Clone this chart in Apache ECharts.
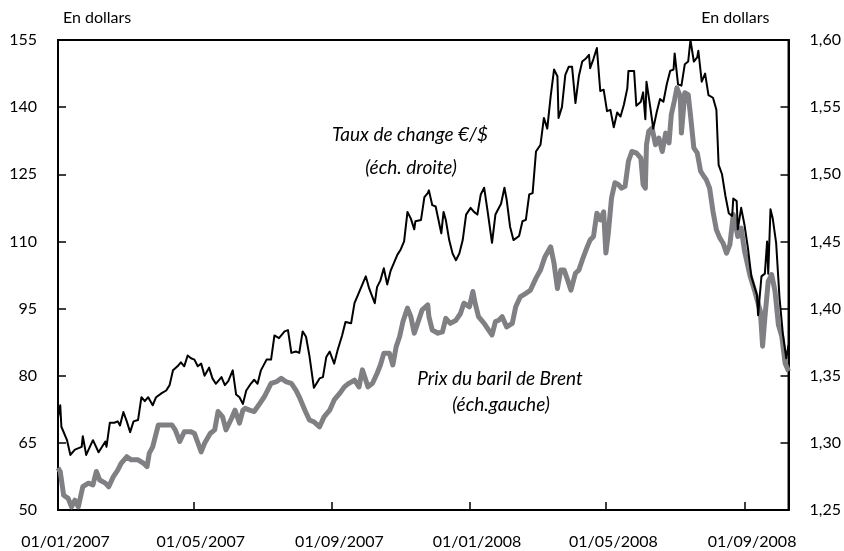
<!DOCTYPE html>
<html>
<head>
<meta charset="utf-8">
<script src="https://cdn.jsdelivr.net/npm/echarts@6/dist/echarts.min.js"></script>
<style>
html,body{margin:0;padding:0;background:#fff;}
#chart{width:844px;height:551px;}
</style>
</head>
<body>
<div id="chart"></div>
<script>
// x values are days since 01/01/2007
const tickDays = [0, 120, 243, 365, 486, 609];
const tickLabels = ['01/01/2007', '01/05/2007', '01/09/2007', '01/01/2008', '01/05/2008', '01/09/2008'];

// Taux de change €/$ (right scale)
const fxDays = [0,2,3,8,11,15,21,22,25,31,36,42,43,46,50,53,55,58,61,64,67,71,74,77,80,84,87,92,96,99,102,106,109,112,115,118,121,124,127,130,134,137,140,145,148,151,155,158,161,164,167,171,174,177,180,185,189,192,196,201,204,207,211,214,217,220,223,227,232,235,238,241,245,248,252,255,260,263,266,270,273,276,281,283,286,289,292,295,298,301,304,307,310,313,316,317,322,325,328,329,332,335,337,340,342,344,347,350,353,356,359,362,366,369,372,375,378,381,385,388,393,396,398,401,404,409,412,415,418,421,424,428,431,434,437,440,443,444,447,450,453,456,459,462,465,468,471,472,475,478,481,484,487,490,493,496,499,502,505,506,511,513,517,519,521,522,525,528,531,534,537,540,543,546,547,550,553,556,559,561,564,567,568,571,574,577,581,584,586,589,592,595,598,599,602,603,606,609,612,615,620,621,624,627,629,630,632,634,637,640,643,646,648];
const fxValues = [1.319,1.328,1.312,1.302,1.291,1.295,1.297,1.305,1.291,1.302,1.293,1.301,1.297,1.315,1.315,1.316,1.313,1.323,1.316,1.308,1.316,1.317,1.334,1.331,1.334,1.328,1.334,1.337,1.339,1.343,1.354,1.357,1.360,1.357,1.365,1.363,1.362,1.357,1.359,1.350,1.356,1.348,1.344,1.349,1.343,1.346,1.354,1.336,1.334,1.329,1.339,1.344,1.347,1.344,1.354,1.362,1.362,1.380,1.378,1.383,1.384,1.367,1.368,1.367,1.383,1.379,1.365,1.341,1.348,1.349,1.364,1.368,1.359,1.369,1.380,1.390,1.389,1.404,1.410,1.418,1.424,1.415,1.404,1.416,1.421,1.430,1.418,1.428,1.434,1.440,1.444,1.450,1.472,1.467,1.459,1.465,1.466,1.483,1.486,1.488,1.477,1.476,1.468,1.456,1.472,1.466,1.451,1.441,1.436,1.441,1.451,1.470,1.475,1.472,1.470,1.485,1.490,1.473,1.449,1.470,1.478,1.490,1.481,1.461,1.451,1.454,1.465,1.466,1.485,1.486,1.517,1.522,1.542,1.534,1.558,1.578,1.573,1.542,1.550,1.574,1.580,1.580,1.553,1.573,1.584,1.586,1.589,1.579,1.586,1.594,1.562,1.563,1.547,1.548,1.535,1.546,1.543,1.552,1.564,1.577,1.577,1.551,1.554,1.561,1.541,1.569,1.552,1.534,1.546,1.556,1.554,1.567,1.577,1.578,1.590,1.567,1.566,1.582,1.584,1.600,1.584,1.587,1.592,1.569,1.575,1.559,1.557,1.548,1.507,1.500,1.484,1.471,1.469,1.482,1.480,1.459,1.475,1.462,1.445,1.424,1.410,1.395,1.424,1.426,1.450,1.426,1.474,1.467,1.449,1.408,1.381,1.363,1.373];

// Prix du baril de Brent (left scale, dollars)
const brentDays = [0,2,5,9,12,15,18,22,27,31,34,37,42,45,49,53,56,61,65,71,76,79,81,84,89,95,101,104,108,112,118,121,127,130,135,139,142,146,149,154,157,161,164,166,170,174,179,183,186,189,194,198,202,207,211,214,219,223,227,232,236,241,245,250,254,258,263,267,270,275,279,283,286,289,294,297,300,303,306,310,313,316,319,323,328,329,332,337,341,344,348,353,357,360,365,368,370,373,378,382,385,388,391,394,398,403,406,410,415,419,424,428,432,437,440,443,446,449,452,455,459,462,465,469,472,475,478,481,484,486,488,491,494,497,500,503,506,509,513,517,519,521,522,524,527,530,533,536,539,542,544,547,549,552,553,556,559,561,564,567,570,573,575,578,581,584,587,590,593,596,599,601,603,606,609,614,618,623,625,627,630,633,636,639,642,645,648];
const brentValues = [59.4,58.6,53.3,52.6,50.7,52.2,50.7,55.2,56.0,55.6,58.6,56.7,56.0,55.2,57.4,58.9,60.4,61.9,61.2,61.2,60.4,59.7,62.7,64.1,69.0,69.0,69.0,67.9,65.3,67.5,67.5,67.1,63.0,64.9,67.1,67.9,72.0,70.8,67.9,70.5,72.3,69.4,72.3,72.7,72.3,72.0,73.8,75.3,76.8,78.3,78.7,79.4,78.7,78.3,76.8,75.3,72.3,70.1,69.7,68.6,70.8,72.3,74.6,76.1,77.5,78.3,79.0,77.5,81.3,77.5,78.3,80.5,82.4,85.0,85.0,82.4,86.5,88.7,92.1,95.1,93.2,89.5,91.7,94.7,95.8,93.2,90.2,89.5,89.8,92.8,91.7,92.4,93.9,96.2,95.4,98.8,96.2,93.2,91.7,90.2,89.1,92.1,92.4,93.2,90.9,91.7,95.4,97.6,98.4,99.1,101.8,103.6,106.6,108.8,105.1,99.5,103.6,103.6,101.4,99.1,102.9,103.6,105.8,108.5,110.3,111.1,116.3,114.8,116.6,107.4,111.5,119.7,123.1,122.7,121.9,122.3,127.9,130.1,129.8,128.6,122.7,121.9,131.6,134.6,135.3,131.6,133.1,130.1,134.2,132.0,138.3,141.7,144.3,142.4,134.2,143.2,142.8,138.3,130.9,129.8,125.7,124.5,123.8,121.9,116.7,112.6,110.8,109.6,107.4,109.3,116.0,113.7,111.1,113.0,107.8,102.2,98.9,94.4,86.6,92.9,101.1,102.6,98.9,91.4,88.8,82.8,81.0];

const fxData = fxDays.map((d, i) => [d, fxValues[i]]);
const brentData = brentDays.map((d, i) => [d, brentValues[i]]);

const FONT = 'Lato';
const labelStyle = {fill: '#000', font: 'italic 19px Lato', align: 'center', verticalAlign: 'middle'};
const chart = echarts.init(document.getElementById('chart'), null, {renderer: 'canvas'});
chart.setOption({
  animation: false,
  backgroundColor: '#ffffff',
  grid: {left: 58, right: 54, top: 40, bottom: 41, show: true, borderColor: '#000', borderWidth: 2, containLabel: false},
  xAxis: {
    type: 'value', min: 0, max: 648,
    axisLine: {show: true, lineStyle: {color: '#000', width: 2}},
    axisTick: {show: true, inside: true, length: 8, lineStyle: {color: '#000', width: 1.5}, customValues: tickDays},
    axisLabel: {
      customValues: tickDays, margin: 24, color: '#000', fontFamily: FONT, fontSize: 16,
      padding: [0, 0, 0, 15],
      formatter: v => tickLabels[tickDays.indexOf(Math.round(v))] || ''
    },
    splitLine: {show: false}
  },
  yAxis: [
    {
      type: 'value', position: 'left', min: 50, max: 155, interval: 15,
      name: 'En dollars', nameLocation: 'end', nameGap: 14,
      nameTextStyle: {color: '#000', fontFamily: FONT, fontSize: 16, align: 'left', padding: [0, 0, 0, 5]},
      axisLine: {show: true, lineStyle: {color: '#000', width: 2}},
      axisTick: {show: true, inside: true, length: 8, lineStyle: {color: '#000', width: 1.5}},
      axisLabel: {margin: 21, color: '#000', fontFamily: FONT, fontSize: 16},
      splitLine: {show: false}
    },
    {
      type: 'value', position: 'right', min: 1.25, max: 1.60, interval: 0.05,
      name: 'En dollars', nameLocation: 'end', nameGap: 14,
      nameTextStyle: {color: '#000', fontFamily: FONT, fontSize: 16, align: 'right', padding: [0, 19, 0, 0]},
      axisLine: {show: true, lineStyle: {color: '#000', width: 2}},
      axisTick: {show: true, inside: true, length: 8, lineStyle: {color: '#000', width: 1.5}},
      axisLabel: {margin: 21, color: '#000', fontFamily: FONT, fontSize: 16,
        formatter: v => v.toFixed(2).replace('.', ',')},
      splitLine: {show: false}
    }
  ],
  series: [
    {
      name: 'Prix du baril de Brent', type: 'line', yAxisIndex: 0, data: brentData,
      showSymbol: false, symbol: 'none', z: 2,
      lineStyle: {color: '#808084', width: 5, join: 'round'}
    },
    {
      name: 'Taux de change €/$', type: 'line', yAxisIndex: 1, data: fxData,
      showSymbol: false, symbol: 'none', z: 3,
      lineStyle: {color: '#000', width: 2, join: 'round'}
    }
  ],
  graphic: [
    {type: 'text', x: 410, y: 135, style: Object.assign({text: 'Taux de change €/$'}, labelStyle)},
    {type: 'text', x: 411, y: 168, style: Object.assign({text: '(éch. droite)'}, labelStyle)},
    {type: 'text', x: 500, y: 379, style: Object.assign({text: 'Prix du baril de Brent'}, labelStyle)},
    {type: 'text', x: 501, y: 405, style: Object.assign({text: '(éch.gauche)'}, labelStyle)}
  ]
});
</script>
</body>
</html>
